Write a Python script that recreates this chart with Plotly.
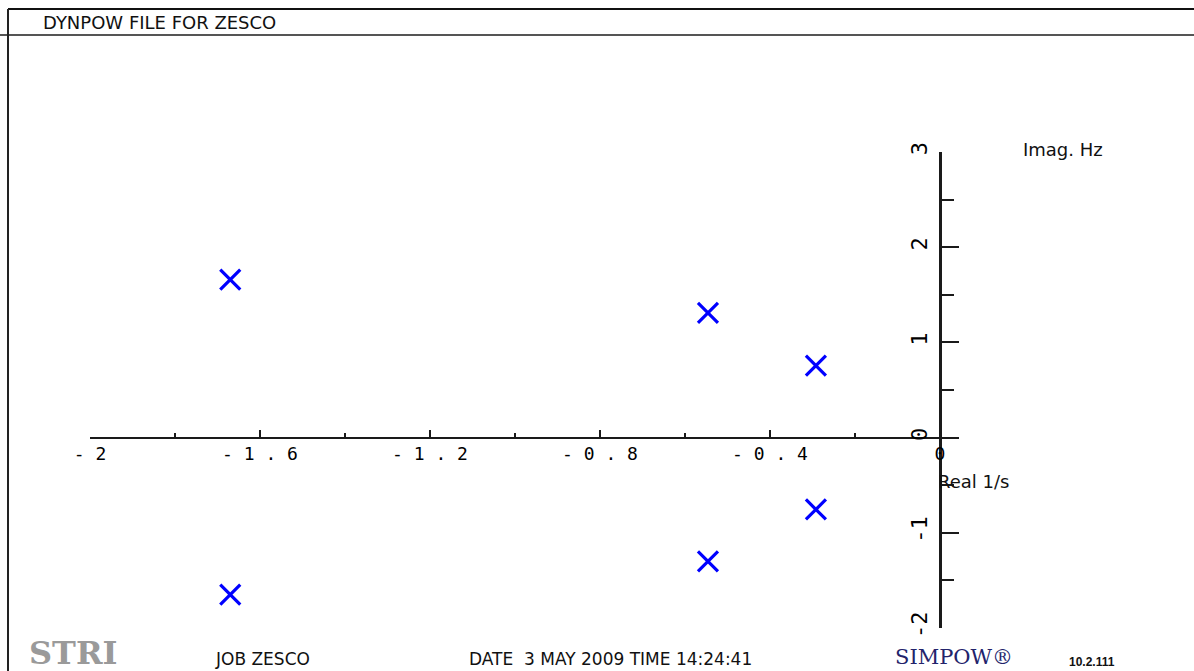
import plotly.graph_objects as go

# Eigenvalues (real part 1/s, imaginary part Hz)
real_part = [-1.67, -1.67, -0.546, -0.546, -0.292, -0.292]
imag_part = [1.66, -1.65, 1.31, -1.30, 0.755, -0.755]

x_tick_vals = [-2, -1.6, -1.2, -0.8, -0.4, 0]
x_tick_text = ["- 2", "- 1 . 6", "- 1 . 2", "- 0 . 8", "- 0 . 4", "0"]
y_tick_vals = [-2, -1, 0, 1, 2, 3]
y_tick_text = ["-2", "-1", "0", "1", "2", "3"]

W, H = 1194, 671


def px(x):
    return x / W


def py(y):
    return 1 - y / H


x_range = [-2.0, 0.04]
y_range = [-2.0, 3.0]
x_dom = [px(90), px(957)]
y_dom = [py(628), py(152)]

# axes cross at the origin
x_axis_pos = y_dom[0] + (0 - y_range[0]) / (y_range[1] - y_range[0]) * (y_dom[1] - y_dom[0])
y_axis_pos = x_dom[0] + (0 - x_range[0]) / (x_range[1] - x_range[0]) * (x_dom[1] - x_dom[0])

axis_color = "#1a1a1a"

fig = go.Figure()
fig.add_trace(go.Scatter(
    x=real_part, y=imag_part, mode="markers",
    marker=dict(symbol="x-thin", size=20, color="#0000ff",
                line=dict(color="#0000ff", width=3.2)),
    hoverinfo="x+y", showlegend=False,
))

fig.update_layout(
    width=W, height=H,
    margin=dict(l=0, r=0, t=0, b=0, autoexpand=False),
    paper_bgcolor="white", plot_bgcolor="white",
    xaxis=dict(
        domain=x_dom, range=x_range, anchor="free", position=x_axis_pos,
        side="bottom", showgrid=False, zeroline=False, automargin=False,
        showline=True, linecolor=axis_color, linewidth=2,
        tickmode="array", tickvals=x_tick_vals, ticktext=x_tick_text,
        ticks="inside", ticklen=7, tickwidth=2, tickcolor=axis_color,
        minor=dict(tick0=0, dtick=0.2, ticks="inside", ticklen=4,
                   tickwidth=2, tickcolor=axis_color),
        tickfont=dict(family="DejaVu Sans Mono", size=18, color="#000000"),
    ),
    yaxis=dict(
        domain=y_dom, range=y_range, anchor="free", position=y_axis_pos,
        side="left", showgrid=False, zeroline=False, automargin=False,
        showline=True, linecolor=axis_color, linewidth=2.5,
        tickmode="array", tickvals=y_tick_vals, ticktext=y_tick_text,
        ticks="inside", ticklen=17, tickwidth=2, tickcolor=axis_color,
        minor=dict(tick0=0, dtick=0.5, ticks="inside", ticklen=12,
                   tickwidth=2, tickcolor=axis_color),
        tickangle=-90,
        tickfont=dict(family="DejaVu Sans Mono", size=22, color="#000000"),
        ticklabelstandoff=3,
    ),
)

# page frame
frame = [
    dict(x0=px(8), x1=1, y0=py(9), y1=py(9), color="#111111", width=2),
    dict(x0=0, x1=1, y0=py(35), y1=py(35), color="#555555", width=2),
    dict(x0=px(8), x1=px(8), y0=py(9), y1=0, color="#222222", width=2),
]
for f in frame:
    fig.add_shape(type="line", xref="paper", yref="paper",
                  x0=f["x0"], x1=f["x1"], y0=f["y0"], y1=f["y1"],
                  line=dict(color=f["color"], width=f["width"]))

text_font = "DejaVu Sans"


def label(text, x, y, size, color="#111111", family=text_font, anchor="left"):
    fig.add_annotation(text=text, xref="paper", yref="paper",
                       x=px(x), y=py(y), xanchor=anchor, yanchor="middle",
                       showarrow=False, borderpad=0,
                       font=dict(family=family, size=size, color=color))


label("DYNPOW FILE FOR ZESCO", 42, 22, 18)
label("Imag. Hz", 1022, 149, 18)
label("Real 1/s", 937, 481, 18)

# footer
label("<b>STRI</b>", 28, 653, 32, color="#9a9a9a", family="DejaVu Serif")
label("JOB ZESCO", 214, 659, 17)
label("DATE  3 MAY 2009 TIME 14:24:41", 468, 659, 17)
label("SIMPOW\u00ae", 894, 657, 21, color="#23236b", family="DejaVu Serif")
label("<b>10.2.111</b>", 1068, 662, 12, family="Liberation Sans")

fig.write_html("out.html")
